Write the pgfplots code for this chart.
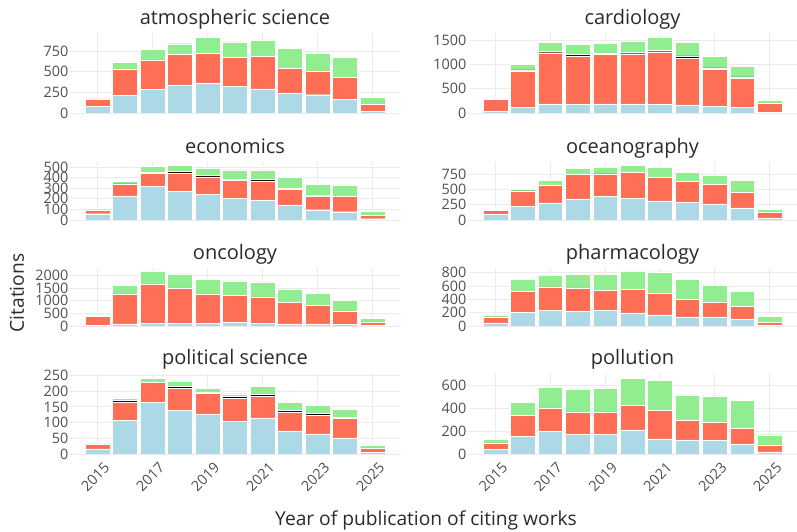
\documentclass[border=0pt]{standalone}
\usepackage{fontspec}
\setmainfont{Open Sans}
\usepackage{pgfplots}
\usepackage{pgfplotstable}
\pgfplotsset{compat=1.18}
\definecolor{cblue}{HTML}{ADD8E6}
\definecolor{cred}{HTML}{FF6F55}
\definecolor{cgreen}{HTML}{90EE90}
\definecolor{gridc}{HTML}{EBEBEB}
\definecolor{tickc}{HTML}{505050}
\definecolor{titc}{HTML}{2A2A2A}

% columns: year, a = light blue, b = red, c = black, d = green (segment heights)
\pgfplotstableread{
year a b c d
2015 80 92 0 8
2016 212 321 0 76
2017 285 357 0 132
2018 341 369 0 128
2019 357 365 0 196
2020 321 349 0 192
2021 293 389 0 204
2022 241 300 0 241
2023 221 288 0 217
2024 168 265 0 237
2025 20 84 0 88
}\tatm
\pgfplotstableread{
year a b c d
2015 34 241 28 20
2016 110 757 21 110
2017 186 1052 35 172
2018 172 1004 35 193
2019 186 1025 21 192
2020 186 1032 34 220
2021 172 1087 28 275
2022 165 963 48 283
2023 138 756 35 241
2024 117 599 27 227
2025 7 186 7 68
}\tcar
\pgfplotstableread{
year a b c d
2015 59 32 0 6
2016 228 106 7 25
2017 316 125 6 56
2018 269 175 12 60
2019 241 165 16 69
2020 206 166 9 91
2021 184 185 15 88
2022 137 151 12 100
2023 97 131 3 107
2024 78 147 0 106
2025 12 35 0 34
}\teco
\pgfplotstableread{
year a b c d
2015 93 71 0 16
2016 219 246 11 22
2017 279 295 0 71
2018 345 405 0 92
2019 383 366 8 113
2020 350 432 0 120
2021 312 393 0 159
2022 295 334 0 159
2023 263 322 0 153
2024 197 263 0 185
2025 33 98 0 49
}\toce
\pgfplotstableread{
year a b c d
2015 13 369 0 52
2016 79 1184 0 342
2017 118 1540 0 513
2018 118 1382 0 553
2019 118 1145 0 579
2020 132 1079 0 565
2021 92 1053 0 592
2022 79 855 0 527
2023 79 724 0 487
2024 66 526 0 421
2025 13 145 0 132
}\tonc
\pgfplotstableread{
year a b c d
2015 45 90 0 30
2016 205 310 0 185
2017 235 350 0 175
2018 215 355 0 205
2019 230 305 0 245
2020 195 350 0 280
2021 165 330 0 315
2022 135 260 0 300
2023 135 215 0 255
2024 95 195 0 230
2025 15 35 0 90
}\tpha
\pgfplotstableread{
year a b c d
2015 16 16 0 2
2016 107 59 4 7
2017 164 65 0 13
2018 139 70 6 18
2019 128 66 2 13
2020 105 72 7 8
2021 115 69 6 25
2022 74 60 6 24
2023 64 60 5 25
2024 51 62 4 26
2025 5 15 0 8
}\tpol
\pgfplotstableread{
year a b c d
2015 41 56 0 35
2016 152 188 0 114
2017 199 205 0 182
2018 170 199 0 202
2019 173 196 0 211
2020 211 214 0 240
2021 132 249 0 267
2022 123 170 0 226
2023 117 161 0 232
2024 88 135 0 249
2025 18 61 2 88
}\tpoll

\pgfplotsset{
  panel/.style={
    scale only axis, anchor=south west,
    xmin=2014, xmax=2026, ymin=0,
    ybar stacked, bar width=0.9,
    axis line style={draw=none},
    tick style={draw=none},
    xmajorgrids, ymajorgrids,
    major grid style={gridc, line width=0.9pt},
    xtick={2015,2017,...,2025},
    xticklabels={},
    /pgf/number format/assume math mode=true,
    /pgf/number format/1000 sep={},
    yticklabel style={font=\fontsize{14.4}{16}\selectfont, color=tickc, inner sep=1.5pt},
    title style={font=\fontsize{20}{22}\selectfont, color=titc, at={(0.5,1)}, anchor=base, yshift=2pt, inner sep=0pt},
  },
  leftc/.style={panel, width=330pt},
  rightc/.style={panel, width=329pt},
  bottomrow/.style={xticklabels={2015,2017,2019,2021,2023,2025},
    xticklabel style={rotate=45, anchor=north east, font=\fontsize{14.4}{16}\selectfont, color=tickc, inner sep=2pt, yshift=-7pt, xshift=1pt}},
  seg/.style={draw=white, line width=0.4pt, fill=#1},
}
\newcommand{\bars}[1]{%
  \addplot[seg=cblue] table[x=year,y=a]{#1};
  \addplot[seg=cred] table[x=year,y=b]{#1};
  \addplot[seg=black] table[x=year,y=c]{#1};
  \addplot[seg=cgreen] table[x=year,y=d]{#1};
}

\begin{document}
\begin{tikzpicture}
\path[use as bounding box] (0,0) rectangle (797pt,532pt);

\begin{axis}[leftc, at={(70pt,419pt)}, height=80pt, ymax=968, ytick={0,250,500,750}, title={atmospheric science}]
\bars{\tatm}
\end{axis}
\begin{axis}[rightc, at={(468pt,419pt)}, height=80pt, ymax=1644, ytick={0,500,1000,1500}, title={cardiology}]
\bars{\tcar}
\end{axis}

\begin{axis}[leftc, at={(70pt,312pt)}, height=58pt, ymax=547, ytick={0,100,...,500}, title={economics}]
\bars{\teco}
\end{axis}
\begin{axis}[rightc, at={(468pt,312pt)}, height=58pt, ymax=952, ytick={0,250,500,750}, title={oceanography}]
\bars{\toce}
\end{axis}

\begin{axis}[leftc, at={(70pt,206pt)}, height=58pt, ymax=2288, ytick={0,500,...,2000}, title={oncology}]
\bars{\tonc}
\end{axis}
\begin{axis}[rightc, at={(468pt,206pt)}, height=58pt, ymax=870, ytick={0,200,...,800}, title={pharmacology}]
\bars{\tpha}
\end{axis}

\begin{axis}[leftc, bottomrow, at={(70pt,78pt)}, height=81pt, ymax=258, ytick={0,50,...,250}, title={political science}]
\bars{\tpol}
\end{axis}
\begin{axis}[rightc, bottomrow, at={(468pt,78pt)}, height=81pt, ymax=711, ytick={0,200,400,600}, title={pollution}]
\bars{\tpoll}
\end{axis}

\node[rotate=90, font=\fontsize{19.2}{22}\selectfont, color=titc] at (17pt,239pt) {Citations};
\node[font=\fontsize{19.2}{22}\selectfont, color=titc] at (426pt,12pt) {Year of publication of citing works};
\end{tikzpicture}
\end{document}
